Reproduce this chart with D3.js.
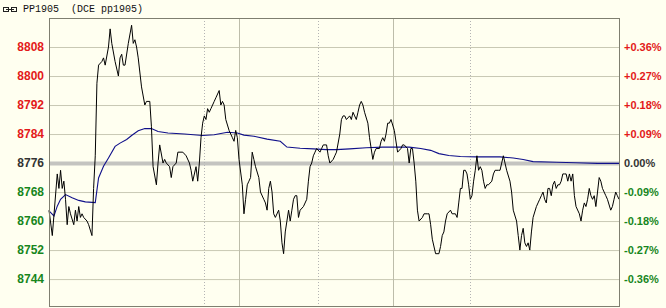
<!DOCTYPE html>
<html>
<head>
<meta charset="utf-8">
<script src="https://cdn.jsdelivr.net/npm/d3@7"></script>
<style>
  body { margin: 0; background: #fffff0; overflow: hidden; }
  svg { display: block; }
</style>
</head>
<body>
<div id="chart"></div>
<script>
// symbol / title
const symbolCode = "PP1905";
const symbolName = "(DCE pp1905)";

// reference price (0.00%) and axis ticks
const basePrice = 8776;
const priceTicks = [8808, 8800, 8792, 8784, 8776, 8768, 8760, 8752, 8744];
const pctLabels = ["+0.36%", "+0.27%", "+0.18%", "+0.09%", "0.00%", "-0.09%", "-0.18%", "-0.27%", "-0.36%"];

// minute offsets of the session separators
const totalMinutes = 345;
const solidMarks = [115, 208];
const dottedMarks = [94, 163, 255];

// last price, sampled [minute, price]
const priceMinutes = [
  0, 2, 5, 6, 7, 8, 9, 10, 11, 12, 13, 15, 16, 17, 18, 19, 20, 21, 23, 24,
  26, 27, 28, 29, 30, 32, 33, 34, 36, 37, 38, 40, 42, 43, 44, 45, 46, 48, 50, 51,
  52, 53, 54, 56, 58, 59, 61, 62, 63, 65, 66, 67, 69, 70, 71, 73, 74, 75, 77, 78,
  81, 83, 85, 86, 87, 89, 90, 91, 92, 93, 94, 95, 96, 97, 98, 99, 100, 101, 103, 104,
  105, 106, 107, 109, 110, 111, 112, 113, 114, 115, 117, 118, 119, 120, 121, 122, 123, 124, 125, 127,
  128, 130, 131, 132, 133, 134, 135, 136, 137, 139, 140, 141, 142, 143, 144, 145, 146, 147, 148, 149,
  150, 151, 152, 154, 156, 157, 158, 159, 160, 161, 162, 164, 165, 166, 168, 169, 170, 172, 173, 174,
  176, 177, 178, 179, 180, 182, 183, 184, 185, 186, 187, 188, 189, 190, 191, 193, 194, 195, 196, 197,
  198, 200, 201, 202, 203, 204, 205, 206, 207, 209, 211, 213, 214, 215, 217, 218, 219, 220, 221, 222,
  223, 224, 226, 227, 229, 230, 231, 232, 234, 236, 237, 238, 239, 240, 241, 243, 244, 246, 247, 248,
  249, 250, 251, 252, 253, 254, 255, 256, 257, 258, 259, 260, 261, 262, 263, 264, 265, 266, 268, 269,
  270, 272, 273, 274, 275, 276, 277, 279, 280, 281, 283, 284, 285, 286, 287, 288, 289, 290, 291, 292,
  293, 295, 296, 297, 298, 299, 300, 301, 302, 303, 304, 305, 306, 307, 308, 309, 310, 311, 312, 313,
  314, 315, 316, 317, 318, 319, 321, 322, 323, 324, 325, 326, 327, 328, 329, 330, 331, 332, 333, 334,
  335, 337, 338, 340, 341, 342, 343, 344, 345
];
const priceValues = [
  8763, 8756, 8773, 8769, 8774, 8769, 8771, 8766, 8759, 8764, 8762, 8759, 8763, 8760, 8764, 8761, 8762, 8761, 8760, 8759,
  8756, 8769, 8778, 8798, 8803, 8804, 8805, 8803, 8808, 8813, 8809, 8804, 8800, 8805, 8806, 8803, 8803, 8809, 8814, 8809,
  8810, 8808, 8805, 8797, 8792, 8793, 8793, 8786, 8775, 8770, 8776, 8781, 8776, 8777, 8776, 8775, 8772, 8775, 8776, 8779,
  8779, 8778, 8776, 8774, 8771, 8775, 8771, 8776, 8783, 8787, 8789, 8788, 8791, 8790, 8791, 8792, 8793, 8794, 8796, 8792,
  8793, 8792, 8788, 8785, 8784, 8783, 8782, 8785, 8783, 8777, 8770, 8762, 8766, 8770, 8771, 8772, 8779, 8777, 8775, 8772,
  8768, 8766, 8765, 8763, 8769, 8771, 8768, 8762, 8761, 8763, 8760, 8754, 8751, 8757, 8760, 8763, 8760, 8763, 8766, 8767,
  8767, 8761, 8763, 8764, 8766, 8771, 8775, 8776, 8778, 8779, 8780, 8779, 8780, 8781, 8781, 8778, 8776, 8777, 8778, 8779,
  8784, 8788, 8789, 8789, 8788, 8789, 8788, 8790, 8789, 8788, 8790, 8792, 8793, 8792, 8790, 8787, 8783, 8780, 8777, 8779,
  8780, 8780, 8782, 8783, 8782, 8784, 8787, 8787, 8788, 8785, 8779, 8780, 8781, 8781, 8780, 8776, 8780, 8780, 8776, 8771,
  8763, 8760, 8761, 8762, 8762, 8762, 8759, 8755, 8751, 8751, 8753, 8756, 8757, 8760, 8762, 8763, 8762, 8762, 8761, 8765,
  8769, 8769, 8774, 8774, 8773, 8770, 8766, 8767, 8771, 8774, 8778, 8774, 8775, 8774, 8771, 8769, 8770, 8770, 8771, 8773,
  8774, 8774, 8774, 8776, 8778, 8776, 8774, 8771, 8768, 8763, 8760, 8756, 8752, 8756, 8758, 8754, 8753, 8754, 8752, 8757,
  8761, 8764, 8765, 8766, 8767, 8768, 8766, 8765, 8769, 8769, 8767, 8770, 8771, 8769, 8770, 8770, 8771, 8773, 8773, 8773,
  8771, 8773, 8771, 8773, 8767, 8764, 8762, 8760, 8763, 8765, 8764, 8766, 8769, 8767, 8766, 8767, 8764, 8768, 8772, 8771,
  8769, 8767, 8766, 8763, 8764, 8766, 8768, 8767, 8766
];

// average price, sampled [minute, price]
const avgMinutes = [
  0, 3, 5, 7, 10, 14, 18, 22, 28, 30, 33, 36, 40, 43, 47, 50, 54, 58, 62, 66,
  72, 82, 93, 100, 108, 114, 118, 124, 132, 140, 144, 152, 160, 168, 174, 182, 192, 202, 212, 218,
  225, 231, 236, 242, 249, 259, 273, 281, 287, 293, 307, 319, 332, 345
];
const avgValues = [
  8762.8, 8761.4, 8764.1, 8766.0, 8767.3, 8766.4, 8765.7, 8765.3, 8765.1, 8771.9, 8775.1, 8777.4, 8780.6, 8781.5, 8782.5, 8783.6, 8784.9, 8785.5, 8785.5, 8784.7,
  8784.3, 8784.0, 8783.6, 8783.8, 8784.5, 8784.3, 8783.7, 8783.4, 8782.6, 8782.0, 8780.4, 8780.1, 8779.9, 8779.7, 8779.7, 8779.9, 8780.2, 8780.4, 8780.4, 8780.4,
  8780.0, 8779.5, 8778.6, 8778.1, 8777.8, 8777.7, 8777.7, 8777.4, 8777.0, 8776.4, 8776.2, 8776.1, 8775.9, 8775.9
];

const w = 666;
const h = 308;
const margin = { top: 18, right: 47, bottom: 1, left: 49 };
const innerWidth = w - margin.left - margin.right;
const innerHeight = h - margin.top - margin.bottom;

const upColor = "#e31a1a";
const downColor = "#17861c";
const flatColor = "#333333";
const tickColor = d => d > basePrice ? upColor : (d < basePrice ? downColor : flatColor);

const svg = d3.select("#chart")
  .append("svg")
  .attr("width", w)
  .attr("height", h)
  .style("background", "#fffff0");

// title bar
const title = svg.append("g").attr("transform", "translate(3, 7)");
title.append("rect").attr("x", 0.5).attr("y", 0.5).attr("width", 5).attr("height", 4)
  .attr("fill", "none").attr("stroke", "#222");
title.append("rect").attr("x", 8.5).attr("y", 0.5).attr("width", 5).attr("height", 4)
  .attr("fill", "none").attr("stroke", "#222");
title.append("line").attr("x1", 3).attr("x2", 11).attr("y1", 2.5).attr("y2", 2.5)
  .attr("stroke", "#222");
svg.append("text")
  .attr("x", 23)
  .attr("y", 12)
  .attr("font-family", "'Liberation Mono', 'DejaVu Sans Mono', monospace")
  .attr("font-size", "10px")
  .attr("fill", "#111")
  .attr("xml:space", "preserve")
  .text(symbolCode + "  " + symbolName);

const xScale = d3.scaleLinear()
  .domain([0, totalMinutes])
  .range([margin.left, margin.left + innerWidth]);

const yScale = d3.scaleLinear()
  .domain([8736.3, 8816])
  .range([margin.top + innerHeight, margin.top]);

// horizontal grid
const gridG = svg.append("g")
  .attr("transform", `translate(${margin.left},0)`)
  .call(d3.axisLeft(yScale).tickValues(priceTicks).tickSize(-innerWidth).tickFormat(""));
gridG.select(".domain").remove();
gridG.selectAll(".tick text").remove();
gridG.selectAll(".tick line")
  .attr("stroke", d => d === basePrice ? "#c4c4c0" : "#c9c9b4")
  .attr("stroke-width", d => d === basePrice ? 4 : 1);

// session separators
svg.selectAll(".solid-mark")
  .data(solidMarks)
  .enter()
  .append("line")
  .attr("class", "solid-mark")
  .attr("x1", d => Math.round(xScale(d)) + 0.5)
  .attr("x2", d => Math.round(xScale(d)) + 0.5)
  .attr("y1", margin.top)
  .attr("y2", margin.top + innerHeight)
  .attr("stroke", "#bdbdaa");

svg.selectAll(".dotted-mark")
  .data(dottedMarks)
  .enter()
  .append("line")
  .attr("class", "dotted-mark")
  .attr("x1", d => Math.round(xScale(d)) + 0.5)
  .attr("x2", d => Math.round(xScale(d)) + 0.5)
  .attr("y1", margin.top)
  .attr("y2", margin.top + innerHeight)
  .attr("stroke", "#b4b4b4")
  .attr("stroke-dasharray", "1,2");

// left price labels
const yAxisG = svg.append("g")
  .attr("transform", `translate(${margin.left},0)`)
  .call(d3.axisLeft(yScale).tickValues(priceTicks).tickSize(0).tickPadding(5)
    .tickFormat(d3.format("d")));
yAxisG.select(".domain").remove();
yAxisG.selectAll(".tick text")
  .attr("font-family", "'Liberation Sans', Arial, sans-serif")
  .attr("font-size", "12px")
  .attr("font-weight", "bold")
  .attr("fill", d => tickColor(d));

// right percent labels
const pctAxisG = svg.append("g")
  .attr("transform", `translate(${margin.left + innerWidth},0)`)
  .call(d3.axisRight(yScale).tickValues(priceTicks).tickSize(0).tickPadding(5)
    .tickFormat((d, i) => pctLabels[i]));
pctAxisG.select(".domain").remove();
pctAxisG.selectAll(".tick text")
  .attr("font-family", "'Liberation Sans', Arial, sans-serif")
  .attr("font-size", "11px")
  .attr("font-weight", "bold")
  .attr("fill", d => tickColor(d));

// average line
const avgData = avgMinutes.map((m, i) => ({ minute: m, price: avgValues[i] }));
const priceData = priceMinutes.map((m, i) => ({ minute: m, price: priceValues[i] }));

const lineGenerator = d3.line()
  .x(d => xScale(d.minute))
  .y(d => yScale(d.price));

svg.append("path")
  .attr("class", "avg-path")
  .attr("d", lineGenerator(avgData))
  .attr("fill", "none")
  .attr("stroke", "#10108a")
  .attr("stroke-width", 1.1);

// price line
svg.append("path")
  .attr("class", "price-path")
  .attr("d", lineGenerator(priceData))
  .attr("fill", "none")
  .attr("stroke", "#000")
  .attr("stroke-width", 1);

// frame
svg.append("rect")
  .attr("x", margin.left + 0.5)
  .attr("y", margin.top + 0.5)
  .attr("width", innerWidth)
  .attr("height", innerHeight - 1)
  .attr("fill", "none")
  .attr("stroke", "#7f7f70");
</script>
</body>
</html>
